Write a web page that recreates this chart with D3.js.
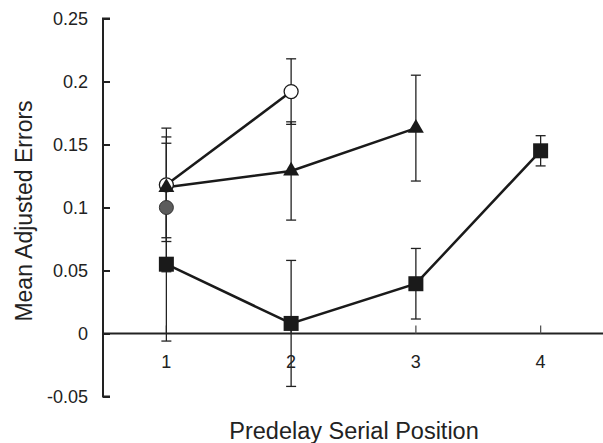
<!DOCTYPE html>
<html><head><meta charset="utf-8">
<script src="https://cdn.jsdelivr.net/npm/d3@7"></script>
<style>body{margin:0;background:#fff}svg{display:block}text{font-family:"Liberation Sans",Arial,sans-serif;fill:#222}</style>
</head><body>
<script>
const positions = [1, 2, 3, 4];
const yTicks = [-0.05, 0, 0.05, 0.1, 0.15, 0.2, 0.25];
const yTickLabels = ["-0.05", "0", "0.05", "0.1", "0.15", "0.2", "0.25"];
const squareX = [1, 2, 3, 4];
const squareY = [0.055, 0.008, 0.0395, 0.145];
const squareErr = [0.061, 0.05, 0.028, 0.012];
const triangleX = [1, 2, 3];
const triangleY = [0.116, 0.129, 0.163];
const triangleErr = [0.04, 0.039, 0.042];
const openCircleX = [1, 2];
const openCircleY = [0.118, 0.192];
const openCircleErr = [0.045, 0.026];
const greyCircleX = [1];
const greyCircleY = [0.1];
const greyCircleErr = [0.051];

const W = 603, H = 443;
const svg = d3.select("body").append("svg").attr("width", W).attr("height", H);
const x = d3.scaleLinear().domain([0.5, 4.5]).range([104, 603]);
const y = d3.scaleLinear().domain([-0.05, 0.25]).range([396.5, 18.5]);

// y axis
const yAxis = svg.append("g").attr("transform", "translate(103,0)")
  .call(d3.axisRight(y).tickValues(yTicks).tickSize(7).tickFormat(""));
yAxis.select(".domain").attr("d", `M7,${y(-0.05)}H0V${y(0.25)}H7`).attr("stroke", "#222").attr("stroke-width", 2);
yAxis.selectAll(".tick line").attr("stroke", "#222").attr("stroke-width", 2);
svg.append("g").selectAll("text").data(yTicks).join("text")
  .attr("x", 88).attr("y", d => y(d)).attr("dy", "0.36em").attr("text-anchor", "end")
  .attr("font-size", 18).text((d, i) => yTickLabels[i]);

// x axis
svg.append("line").attr("x1", 103).attr("x2", 603).attr("y1", y(0)).attr("y2", y(0))
  .attr("stroke", "#222").attr("stroke-width", 2);
svg.append("g").selectAll("line").data(positions).join("line")
  .attr("x1", d => x(d)).attr("x2", d => x(d)).attr("y1", y(0)).attr("y2", y(0) - 8)
  .attr("stroke", "#555").attr("stroke-width", 1.3);
svg.append("g").selectAll("text").data(positions).join("text")
  .attr("x", d => x(d)).attr("y", 368).attr("text-anchor", "middle").attr("font-size", 18).text(d => d);

// titles
svg.append("text").attr("x", 354).attr("y", 439).attr("text-anchor", "middle").attr("font-size", 23.5)
  .text("Predelay Serial Position");
svg.append("text").attr("transform", "translate(32,211) rotate(-90)").attr("text-anchor", "middle")
  .attr("font-size", 23).text("Mean Adjusted Errors");

function series(xs, ys) { return xs.map((d, i) => ({x: d, y: ys[i]})); }
const sq = series(squareX, squareY), tr = series(triangleX, triangleY),
      oc = series(openCircleX, openCircleY), gc = series(greyCircleX, greyCircleY);

// error bars
const eb = svg.append("g").attr("stroke", "#222").attr("stroke-width", 1.3);
function errBars(xs, ys, es) {
  xs.forEach((xv, i) => {
    const cx = x(xv), hi = y(ys[i] + es[i]), lo = y(ys[i] - es[i]);
    eb.append("line").attr("x1", cx).attr("x2", cx).attr("y1", hi).attr("y2", lo);
    eb.append("line").attr("x1", cx - 5).attr("x2", cx + 5).attr("y1", hi).attr("y2", hi);
    eb.append("line").attr("x1", cx - 5).attr("x2", cx + 5).attr("y1", lo).attr("y2", lo);
  });
}
errBars(squareX, squareY, squareErr);
errBars(triangleX, triangleY, triangleErr);
errBars(openCircleX, openCircleY, openCircleErr);
errBars(greyCircleX, greyCircleY, greyCircleErr);

// lines
const line = d3.line().x(d => x(d.x)).y(d => y(d.y));
[sq, tr, oc].forEach(s => svg.append("path").attr("d", line(s)).attr("fill", "none")
  .attr("stroke", "#1a1a1a").attr("stroke-width", 2.5));

// markers
svg.append("g").selectAll("circle").data(oc).join("circle")
  .attr("cx", d => x(d.x)).attr("cy", d => y(d.y)).attr("r", 7)
  .attr("fill", "#fff").attr("stroke", "#1a1a1a").attr("stroke-width", 1.3);
svg.append("g").selectAll("circle").data(gc).join("circle")
  .attr("cx", d => x(d.x)).attr("cy", d => y(d.y)).attr("r", 7)
  .attr("fill", "#5c5c5c").attr("stroke", "#333").attr("stroke-width", 1);
const tri = d3.symbol().type(d3.symbolTriangle).size(110);
svg.append("g").selectAll("path").data(tr).join("path")
  .attr("transform", d => `translate(${x(d.x)},${y(d.y)})`).attr("d", tri).attr("fill", "#1a1a1a");
svg.append("g").selectAll("rect").data(sq).join("rect")
  .attr("x", d => x(d.x) - 7.5).attr("y", d => y(d.y) - 7.5).attr("width", 15).attr("height", 15)
  .attr("fill", "#1a1a1a");
</script>
</body></html>
